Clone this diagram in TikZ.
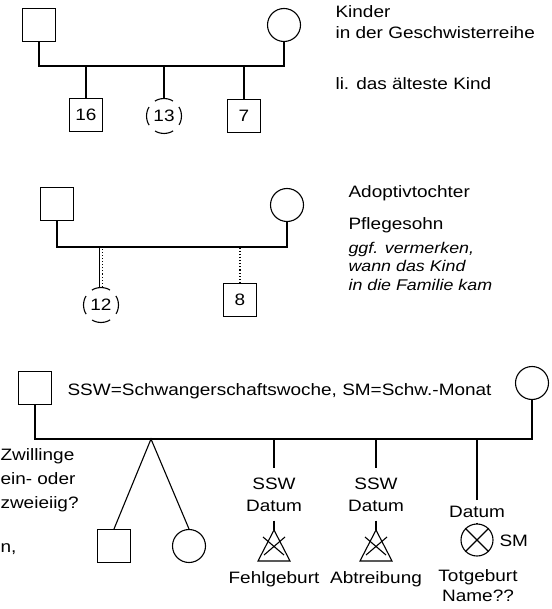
\documentclass[tikz,border=0pt]{standalone}
\usepackage{fontspec}
\setmainfont{Liberation Sans}[FakeStretch=1.15]

\begin{document}
\begin{tikzpicture}[x=1pt,y=-1pt,line width=1.1pt,font=\fontsize{16.5}{20}\selectfont,
  male/.style={draw,minimum size=33pt,inner sep=0pt},
  female/.style={draw,circle,minimum size=33pt,inner sep=0pt},
  unsure/.style={female,minimum size=35pt,dash pattern=on 19pt off 8.5pt,dash phase=9.5pt},
  note/.style={anchor=base west,inner sep=0pt},
  lbl/.style={anchor=base,inner xsep=0pt,inner ysep=9pt}]
 \useasboundingbox (0,0) rectangle (551,609);
 % Kinder in der Geschwisterreihe
 \node[male] (v1) at (39,25) {};
 \node[female] (m1) at (284,25) {};
 \coordinate (l1) at (0,66);
 \draw (v1) -- (v1 |- l1) -- (m1 |- l1) -- (m1);
 \node[male] (k16) at (86,115) {16};
 \node[unsure] (k13) at (164,116) {13};
 \node[male] (k7) at (244,116) {7};
 \foreach \kid in {k16,k13,k7}
  \draw (\kid) -- (\kid |- l1);
 \node[note] (kinder) at (335,17.7) {Kinder};
 \node[note] (reihe) at (335,38.3) {in der Geschwisterreihe};
 \node[note] (aeltest) at (335,89.3) {li. das älteste Kind};
 % Adoptiv- und Pflegekind
 \node[male] (v2) at (57,204) {};
 \node[female] (m2) at (287,205) {};
 \coordinate (l2) at (0,247);
 \draw (v2) -- (v2 |- l2) -- (m2 |- l2) -- (m2);
 \node[unsure] (k12) at (101,305) {12};
 \node[male] (k8) at (240,300) {8};
 \draw ([xshift=-1.5pt]k12.north) -- ([xshift=-1.5pt]k12.north |- l2);
 \draw[dotted] ([xshift=1.5pt]k12.north) -- ([xshift=1.5pt]k12.north |- l2);
 \draw[dotted] (k8) -- (k8 |- l2);
 \node[note] (adopt) at (348,197.7) {Adoptivtochter};
 \node[note] (pflege) at (348,229.3) {Pflegesohn};
 \node[note,font=\fontsize{15.5}{18.4}\selectfont\itshape,align=left,anchor=north west]
  (ggf) at (348,241.5) {ggf. vermerken,\\wann das Kind\\in die Familie kam};
 % Zwillinge, Fehlgeburt, Abtreibung, Totgeburt
 \node[male] (v3) at (35,388) {};
 \node[female] (m3) at (532,383) {};
 \coordinate (l3) at (0,439);
 \draw (v3) -- (v3 |- l3) -- (m3 |- l3) -- (m3);
 \node[note] (ssw) at (67,395) {SSW=Schwangerschaftswoche, SM=Schw.-Monat};
 \coordinate (tw) at (151,439);
 \node[male] (z1) at (114,546) {};
 \node[female] (z2) at (189,546) {};
 \draw (z1.north) -- (tw) -- (z2.north);
 \node[note] (zw1) at (0,460) {Zwillinge};
 \node[note] (zw2) at (0,484) {ein- oder};
 \node[note] (zw3) at (0,508) {zweieiig?};
 \node[note] (rest) at (0,552) {n,};
 \foreach \n/\x/\lab in {fg/274/Fehlgeburt,ab/376/Abtreibung}{
  \node[lbl] (\n s) at (\x,489) {SSW};
  \node[lbl] (\n d) at (\x,511) {Datum};
  \coordinate (\n t) at (\x,530);
  \draw (\n s) -- (\n s |- l3);
  \draw (\n d) -- (\n t);
  \draw (\n t) -- ++(-16,31) -- ++(32,0) -- cycle;
  \draw ([shift={(-11,7)}]\n t) -- ([shift={(10,25)}]\n t)
        ([shift={(11,7)}]\n t) -- ([shift={(-10,25)}]\n t);
  \node[anchor=base] (\n n) at (\x,583) {\lab};}
 \node[lbl,inner ysep=5pt] (tgd) at (477,517) {Datum};
 \draw (tgd) -- (tgd |- l3);
 \node[female,minimum size=32pt] (tg) at (477,540) {};
 \draw (tgd) -- (tg);
 \draw (tg.north west) -- (tg.south east) (tg.north east) -- (tg.south west);
 \node[note] (sm) at (499,546) {SM};
 \node[anchor=base] (tgn) at (478,581) {Totgeburt};
 \node[anchor=base] (name) at (478,601) {Name??};
\end{tikzpicture}
\end{document}
